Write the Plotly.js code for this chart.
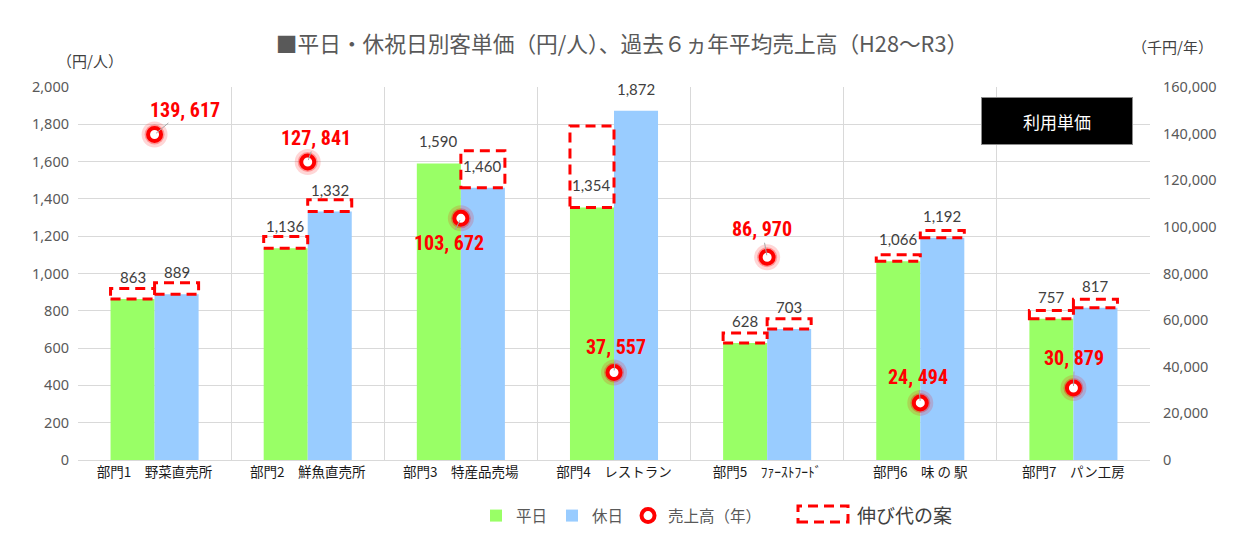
<!DOCTYPE html>
<html><head><meta charset="utf-8">
<script src="https://cdn.plot.ly/plotly-3.0.1.min.js"></script>
<style>
html,body{margin:0;padding:0;background:#fff;}
#wrap{position:relative;width:1237px;height:536px;}
#chart{width:1237px;height:536px;}
#frame{position:absolute;left:7px;top:0;width:1px;height:536px;background:#d9d9d9;}
#chart text.annotation-text[style*="Condensed"]{font-stretch:75%;}
</style></head>
<body><div id="wrap"><div id="frame"></div><div id="chart"></div></div>
<script>
// ---- data ----
const categories = ['部門1　野菜直売所','部門2　鮮魚直売所','部門3　特産品売場','部門4　レストラン','部門5　ﾌｧｰｽﾄﾌｰﾄﾞ','部門6　味 の 駅','部門7　パン工房'];
const weekday = [863, 1136, 1590, 1354, 628, 1066, 757];
const holiday = [889, 1332, 1460, 1872, 703, 1192, 817];
const sales = [139617, 127841, 103672, 37557, 86970, 24494, 30879];
// proposed growth targets (top of dashed boxes), null = no box
const weekdayTarget = [920, 1198, null, 1791, 681, 1100, 802];
const holidayTarget = [950, 1396, 1658, null, 758, 1230, 862];

// ---- style / layout ----
const BARGAP = 0.425;
const barW = (1 - BARGAP) / 2;
const labelOffsets = [[30,-25],[8,-24],[-12,25],[2,-25],[-5,-28],[-2,-26],[1,-30]];
const gray = '#595959';
const L = 78, T = 87, PW = 1072, PH = 373;
const px = x => (x - L) / PW;
const py = y => (T + PH - y) / PH;
const cjk = 'Noto Sans CJK JP, sans-serif';

const traces = [
  {type:'bar', name:'平日', x:categories, y:weekday, marker:{color:'#99FF66'}},
  {type:'bar', name:'休日', x:categories, y:holiday, marker:{color:'#99CCFF'}},
  {type:'scatter', mode:'markers', x:categories, y:sales, yaxis:'y2', showlegend:false, hoverinfo:'skip',
   marker:{size:26, color:'rgba(255,0,0,0.16)', line:{width:0}}},
  {type:'scatter', mode:'markers', x:categories, y:sales, yaxis:'y2', showlegend:false, hoverinfo:'skip',
   marker:{size:20, color:'rgba(255,0,0,0.3)', line:{width:0}}},
  {type:'scatter', mode:'markers', name:'売上高（年）', x:categories, y:sales, yaxis:'y2',
   marker:{size:13, color:'#ffffff', line:{color:'#FF0000', width:4}}}
];

const shapes = [];
const annotations = [];
const barFont = {size:15, color:'#404040', family:'Lato, Noto Sans, sans-serif'};
function addBar(i, val, top, side){
  const x0 = side === 0 ? i - barW : i;
  annotations.push({xref:'x', yref:'y', x:x0 + barW/2, y:val, yanchor:'bottom', xanchor:'center',
    yshift:11, showarrow:false, text:val.toLocaleString('en-US'), font:barFont});
  if(top === null) return;
  shapes.push({type:'rect', xref:'x', yref:'y', x0:x0, x1:x0 + barW, y0:val, y1:top,
    line:{color:'#FF0000', width:3, dash:'10px,6px'}, fillcolor:'rgba(0,0,0,0)', layer:'above'});
}
categories.forEach((c,i)=>{ addBar(i, weekday[i], weekdayTarget[i], 0); addBar(i, holiday[i], holidayTarget[i], 1); });
// legend item for dashed box
shapes.push({type:'rect', xref:'paper', yref:'paper',
  x0:px(798), x1:px(848), y0:py(522), y1:py(506),
  line:{color:'#FF0000', width:3, dash:'10px,6px'}, fillcolor:'rgba(0,0,0,0)'});

sales.forEach((v,i)=>{
  annotations.push({x:categories[i], y:v, xref:'x', yref:'y2',
    text: v.toLocaleString('en-US').replace(',', ', '),
    showarrow:true, arrowhead:0, arrowwidth:1, arrowcolor:'#a6a6a6', standoff:2,
    ax:labelOffsets[i][0], ay:labelOffsets[i][1],
    font:{family:'Roboto Condensed, Noto Sans, Open Sans, sans-serif', size:20, color:'#FF0000', weight:'bold'}});
});
annotations.push({xref:'paper', yref:'paper', x:px(1057), y:py(121.5), xanchor:'center', yanchor:'middle',
  text:'利用単価', showarrow:false, bgcolor:'#000000', bordercolor:'#8c8c8c', borderwidth:1,
  width:148, height:44, font:{size:17, color:'#ffffff', family:cjk}});
annotations.push({xref:'paper', yref:'paper', x:px(90), y:py(61), xanchor:'center', yanchor:'middle',
  text:'（円/人）', showarrow:false, font:{size:15, color:'#404040', family:cjk}});
annotations.push({xref:'paper', yref:'paper', x:px(1172), y:py(47), xanchor:'center', yanchor:'middle',
  text:'（千円/年）', showarrow:false, font:{size:15, color:'#404040', family:cjk}});
annotations.push({xref:'paper', yref:'paper', x:px(855), y:py(514), xanchor:'left', yanchor:'middle',
  text:'伸び代の案', showarrow:false, font:{size:19, color:'#404040', family:cjk}});

const layout = {
  width:1237, height:536,
  margin:{l:L, r:1237-L-PW, t:T, b:536-T-PH, autoexpand:false},
  paper_bgcolor:'#ffffff', plot_bgcolor:'#ffffff',
  font:{family:'Noto Sans CJK JP, Noto Sans, sans-serif', color:gray},
  title:{text:'■平日・休祝日別客単価（円/人）、過去６ヵ年平均売上高（H28～R3）',
    x:622/1237, xref:'container', xanchor:'center', y:1-44/536, yref:'container', yanchor:'middle',
    font:{size:21.7, color:gray, family:cjk}},
  barmode:'group', bargap:BARGAP, bargroupgap:0,
  xaxis:{type:'category', tickson:'boundaries', showgrid:true, gridcolor:'#d9d9d9', gridwidth:1,
    showline:true, linecolor:'#d9d9d9', ticks:'', ticklen:0, automargin:false,
    tickfont:{size:13.5, color:'#1a1a1a', family:cjk}},
  yaxis:{range:[0,2000], dtick:200, tickformat:',d', gridcolor:'#d9d9d9', zeroline:true, zerolinecolor:'#d9d9d9',
    showline:false, ticks:'', ticklabelstandoff:8, automargin:false,
    tickfont:{size:14.5, color:gray, family:'Noto Sans, Open Sans, sans-serif'}},
  yaxis2:{range:[0,160000], dtick:20000, tickformat:',d', overlaying:'y', side:'right', showgrid:false,
    zeroline:false, showline:false, ticks:'', ticklabelstandoff:12, automargin:false,
    tickfont:{size:14.5, color:gray, family:'Noto Sans, Open Sans, sans-serif'}},
  showlegend:true,
  legend:{orientation:'h', x:px(476), xanchor:'left', y:py(516), yanchor:'middle',
    font:{size:15.5, color:gray, family:cjk}, itemwidth:30, traceorder:'normal',
    bgcolor:'rgba(0,0,0,0)'},
  shapes:shapes, annotations:annotations
};

Plotly.newPlot('chart', traces, layout, {staticPlot:true, displayModeBar:false});
</script></body></html>
